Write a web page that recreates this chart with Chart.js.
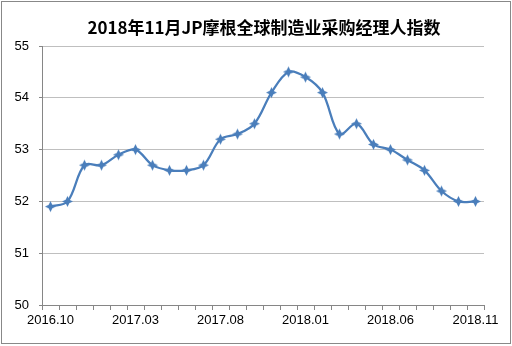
<!DOCTYPE html>
<html>
<head>
<meta charset="utf-8">
<script src="https://cdn.jsdelivr.net/npm/chart.js@4/dist/chart.umd.min.js"></script>
<style>
html,body{margin:0;padding:0;background:#fff;}
#wrap{position:absolute;left:0;top:0;width:512px;height:346px;}
#frame{position:absolute;left:1px;top:1px;width:508px;height:341px;border:1px solid #888;pointer-events:none;}
</style>
</head>
<body>
<div id="wrap"><canvas id="c" width="512" height="346"></canvas></div>
<div id="frame"></div>
<script>
const categories = ['2016.10','2016.11','2016.12','2017.01','2017.02','2017.03','2017.04','2017.05','2017.06','2017.07','2017.08','2017.09','2017.10','2017.11','2017.12','2018.01','2018.02','2018.03','2018.04','2018.05','2018.06','2018.07','2018.08','2018.09','2018.10','2018.11'];
const pmiValues = [51.9,52.0,52.7,52.7,52.9,53.0,52.7,52.6,52.6,52.7,53.2,53.3,53.5,54.1,54.5,54.4,54.1,53.3,53.5,53.1,53.0,52.8,52.6,52.2,52.0,52.0];
const yTicks = [50,51,52,53,54,55];
const titleText = '2018年11月JP摩根全球制造业采购经理人指数';

const LINE = '#4A7EBB';
function makeMarker(){
  const s = 13, c = document.createElement('canvas');
  c.width = s; c.height = s;
  const g = c.getContext('2d');
  const m = s/2, R = 5.5, r = 2.6;
  g.beginPath();
  for (let i = 0; i < 8; i++) {
    const a = -Math.PI/2 + i*Math.PI/4;
    const rad = (i % 2 === 0) ? R : r;
    const x = m + rad*Math.cos(a), y = m + rad*Math.sin(a);
    if (i === 0) g.moveTo(x, y); else g.lineTo(x, y);
  }
  g.closePath();
  g.fillStyle = LINE;
  g.fill();
  return c;
}
const marker = makeMarker();

const titlePlugin = {
  id: 'fixedTitle',
  afterDraw(chart){
    const ctx = chart.ctx;
    ctx.save();
    ctx.font = 'bold 17px "Noto Sans CJK SC", sans-serif';
    ctx.fillStyle = '#000';
    ctx.textAlign = 'center';
    ctx.textBaseline = 'middle';
    ctx.fillText(titleText, 264, 28);
    ctx.restore();
  }
};

new Chart(document.getElementById('c'), {
  type: 'line',
  data: {
    labels: categories,
    datasets: [{
      data: pmiValues,
      borderColor: LINE,
      borderWidth: 2.25,
      tension: 0.35,
      pointStyle: marker,
      pointRadius: 5,
      pointHoverRadius: 5,
      fill: false
    }]
  },
  options: {
    responsive: false,
    animation: false,
    devicePixelRatio: 1,
    layout: {padding: {left: 0, right: 28, top: 46, bottom: 0}},
    plugins: {
      legend: {display: false},
      tooltip: {enabled: false},
      title: {display: false}
    },
    scales: {
      x: {
        type: 'category',
        offset: true,
        afterFit: s => { s.height = 41; },
        grid: {display: true, drawOnChartArea: false, drawTicks: true, tickLength: 5, offset: true, tickColor: '#868686', tickWidth: 1},
        border: {display: true, color: '#868686', width: 1},
        ticks: {
          autoSkip: false,
          maxRotation: 0,
          minRotation: 0,
          padding: 3,
          color: '#000',
          font: {family: '"Liberation Sans", Arial, sans-serif', size: 13},
          callback: function(v, i){ return i % 5 === 0 ? categories[i] : ''; }
        }
      },
      y: {
        min: 50,
        max: 55,
        afterFit: s => { s.width = 42; },
        afterBuildTicks: s => { s.ticks = yTicks.map(v => ({value: v})); },
        grid: {color: '#BFBFBF', lineWidth: 1, drawTicks: true, tickLength: 3, tickColor: '#868686'},
        border: {display: true, color: '#868686', width: 1},
        ticks: {
          padding: 10,
          color: '#000',
          font: {family: '"Liberation Sans", Arial, sans-serif', size: 13}
        }
      }
    }
  },
  plugins: [titlePlugin]
});
</script>
</body>
</html>
